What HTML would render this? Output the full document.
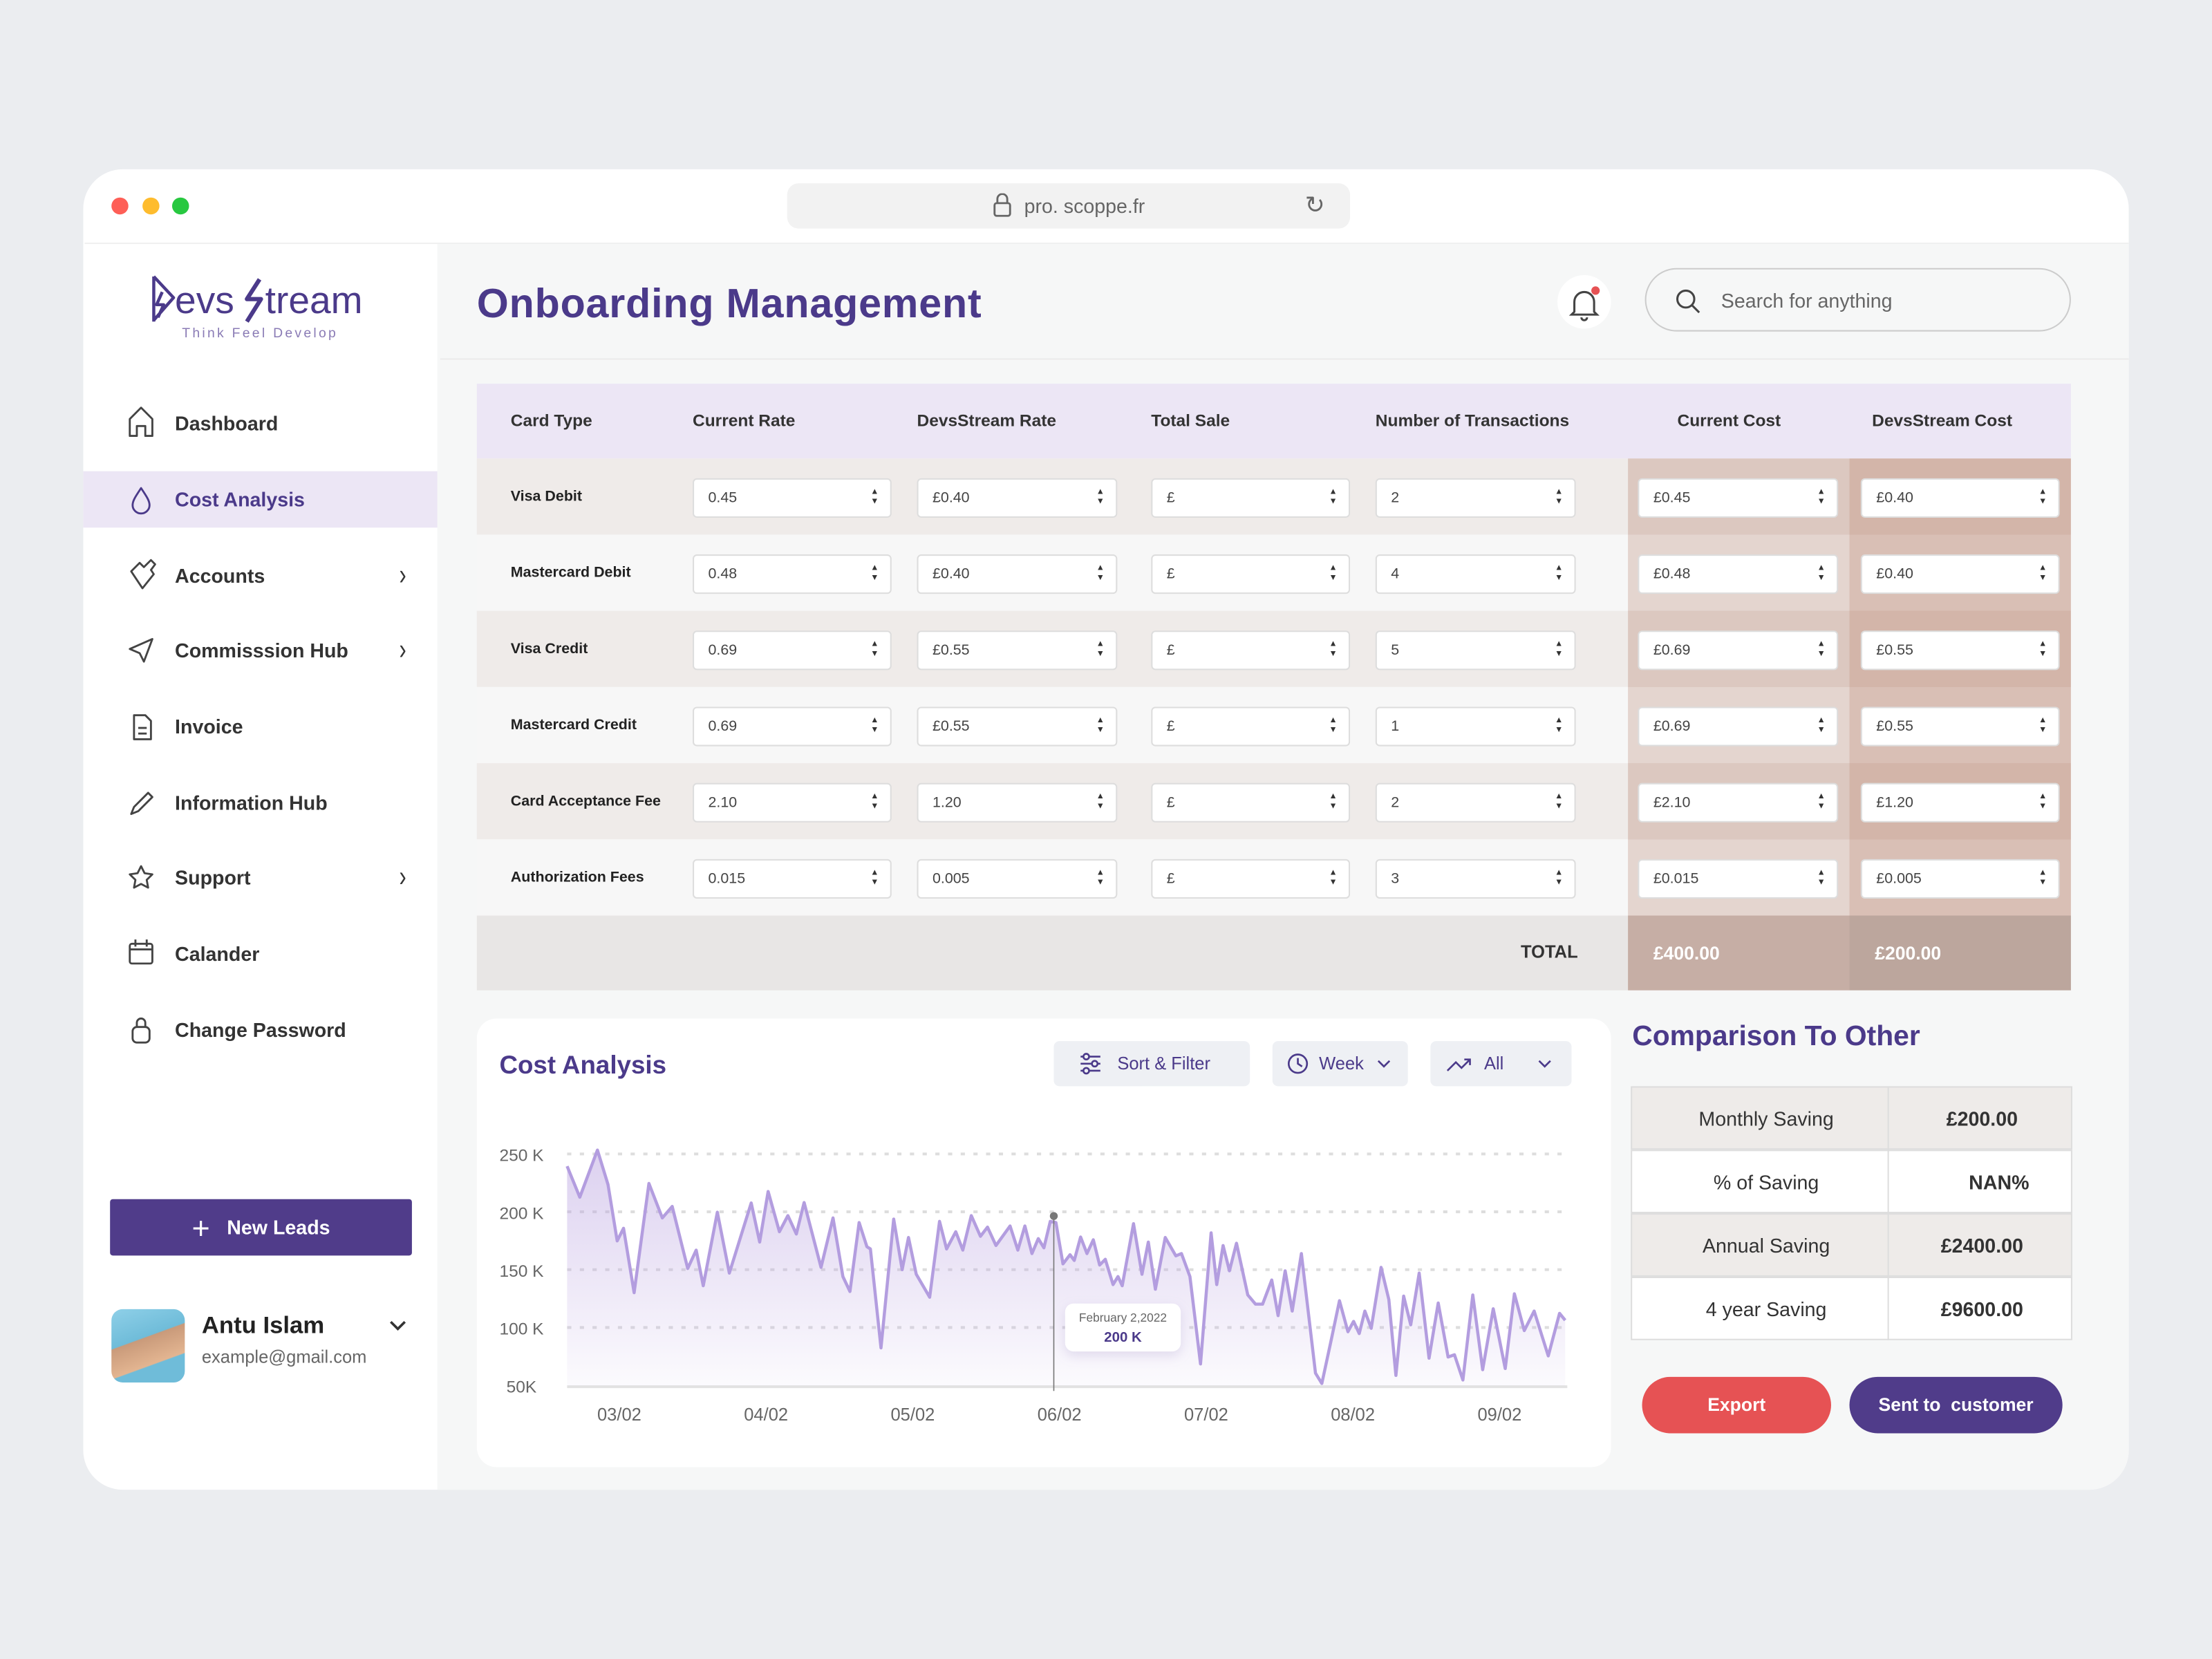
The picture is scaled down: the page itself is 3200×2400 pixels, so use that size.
<!DOCTYPE html>
<html><head><meta charset="utf-8"><style>
*{margin:0;padding:0;box-sizing:border-box}
html,body{width:3200px;height:2400px;overflow:hidden;background:#ebedf0;font-family:"Liberation Sans",sans-serif}
#s{position:absolute;left:0;top:0;width:1568px;height:1176px;transform:scale(2.040816);transform-origin:0 0}
.a{position:absolute}
.win{left:59px;top:120px;width:1450px;height:936px;background:#fff;border-radius:28px;overflow:hidden}
.nav{position:absolute;left:124px;font-size:14px;font-weight:bold;color:#333;transform:translateY(-50%)}
.chev{position:absolute;left:283px;font-size:15px;color:#333;transform:translateY(-50%) scaleY(1.4)}
.th{position:absolute;top:298px;font-size:12px;font-weight:bold;color:#333;transform:translateY(-50%)}
.rl{position:absolute;left:362px;font-size:10.5px;font-weight:bold;color:#222;transform:translateY(-50%)}
.inp{position:absolute;height:28px;background:#fff;border:1px solid #ddd;border-radius:3px;font-size:10.5px;color:#444;line-height:26px;padding-left:10px}
.inp:after{content:"\25B2\A\25BC";white-space:pre;position:absolute;right:8px;top:6px;font-size:6px;line-height:7px;color:#333}
.btn{position:absolute;height:32px;background:#eef0f4;border-radius:4px;font-size:12.5px;color:#4b3a8a;line-height:32px}
.yl{position:absolute;left:354px;font-size:12px;color:#666;transform:translateY(-50%)}
.xl{position:absolute;top:996px;font-size:12.5px;color:#666;transform:translateX(-50%)}
.ct{position:absolute;left:1156px;width:313px;height:45px;border:1px solid #ddd;font-size:14px;color:#333}
.ct span{position:absolute;top:50%;transform:translate(-50%,-50%);white-space:nowrap}
</style></head><body><div id="s">
<div class="a win"></div>
<div class="a" style="left:310px;top:172px;width:1199px;height:884px;background:#f6f7f7;border-bottom-right-radius:28px"></div>
<div class="a" style="left:79px;top:140px;width:12px;height:12px;border-radius:6px;background:#fe5f57"></div>
<div class="a" style="left:101px;top:140px;width:12px;height:12px;border-radius:6px;background:#febc2e"></div>
<div class="a" style="left:122px;top:140px;width:12px;height:12px;border-radius:6px;background:#28c840"></div>
<div class="a" style="left:558px;top:130px;width:399px;height:32px;background:#f2f2f2;border-radius:8px"></div>
<div class="a" style="left:704px;top:137px;width:13px;height:17px"><svg width="13" height="17"><path d="M3 7V4a3.5 3.5 0 0 1 7 0v3" fill="none" stroke="#666" stroke-width="1.4"/><rect x="1" y="7" width="11" height="9" rx="1.5" fill="none" stroke="#666" stroke-width="1.4"/></svg></div>
<div class="a" style="left:726px;top:138px;font-size:14px;color:#666">pro. scoppe.fr</div>
<div class="a" style="left:925px;top:138px;font-size:17px;color:#666;line-height:16px">&#8635;</div>
<div class="a" style="left:60px;top:172px;width:1449px;height:1px;background:#f0f0f0"></div>
<!-- logo -->
<svg class="a" style="left:106px;top:194px" width="20" height="36"><path d="M3 2v32M3 2l14 15-14 16M9 13l-4 9h5l-4 9" fill="none" stroke="#4b3a8a" stroke-width="2.2" stroke-linejoin="round"/></svg>
<div class="a" style="left:124px;top:198px;font-size:27px;color:#4b3a8a;letter-spacing:0px">evs</div>
<svg class="a" style="left:168px;top:196px" width="22" height="34"><path d="M16 2L7 16h10L7 32" fill="none" stroke="#4b3a8a" stroke-width="3" stroke-linejoin="round"/></svg>
<div class="a" style="left:188px;top:198px;font-size:27px;color:#4b3a8a">tream</div>
<div class="a" style="left:129px;top:231px;font-size:9.5px;color:#8a7bb5;letter-spacing:1.6px">Think Feel Develop</div>
<!-- nav -->
<div class="a" style="left:59px;top:334px;width:251px;height:40px;background:#ece6f5"></div>
<svg class="a" style="left:0;top:0" width="320" height="760"><g fill="none" stroke="#444" stroke-width="1.4" stroke-linejoin="round">
<path d="M92 309V297l8-8 8 8v12h-5v-7h-6v7z"/>
<path d="M100 346c-4 6-6 9-6 12a6 6 0 0 0 12 0c0-3-2-6-6-12z" stroke="#4b3a8a"/>
<path d="M93 405l6-6 3 3 5-5 3 3-3 4 2 3-8 10z"/>
<path d="M92 460l16-7-6 16-3-6z"/>
<path d="M95 507h8l4 4v13H95zM98 516h6M98 520h6"/>
<path d="M93 577l2-5 10-10 3 3-10 10z"/>
<path d="M100 614l2.5 5 5.5.8-4 3.9 1 5.5-5-2.6-5 2.6 1-5.5-4-3.9 5.5-.8z"/>
<rect x="92" y="669" width="16" height="14" rx="1.5"/><path d="M92 673h16M96 666v5M104 666v5"/>
<rect x="94" y="728" width="12" height="11" rx="3"/><path d="M97 728v-3a3 3 0 0 1 6 0v3"/>
</g></svg>
<div class="nav" style="top:300px">Dashboard</div>
<div class="nav" style="top:354px;color:#4b3a8a">Cost Analysis</div>
<div class="nav" style="top:408px">Accounts</div>
<div class="nav" style="top:461px">Commisssion Hub</div>
<div class="nav" style="top:515px">Invoice</div>
<div class="nav" style="top:569px">Information Hub</div>
<div class="nav" style="top:622px">Support</div>
<div class="nav" style="top:676px">Calander</div>
<div class="nav" style="top:730px">Change Password</div>
<div class="chev" style="top:408px">&#8250;</div>
<div class="chev" style="top:461px">&#8250;</div>
<div class="chev" style="top:622px">&#8250;</div>
<div class="a" style="left:78px;top:850px;width:214px;height:40px;background:#503c8a;border-radius:2px;color:#fff;font-size:14px;font-weight:bold;text-align:center;line-height:40px"><span style="font-size:22px;font-weight:normal;vertical-align:-3px;margin-right:12px">+</span>New Leads</div>
<div class="a" style="left:79px;top:928px;width:52px;height:52px;border-radius:8px;background:linear-gradient(160deg,#8fd0e8 0%,#6fbcd9 40%,#c99a7a 41%,#e3b591 70%,#6fbcd9 71%)"></div>
<div class="a" style="left:143px;top:930px;font-size:17px;font-weight:bold;color:#222">Antu Islam</div>
<div class="a" style="left:143px;top:955px;font-size:12.5px;color:#666">example@gmail.com</div>
<svg class="a" style="left:275px;top:935px" width="14" height="10"><path d="M2 2l5 5 5-5" fill="none" stroke="#333" stroke-width="1.8"/></svg>
<!-- header -->
<div class="a" style="left:338px;top:200px;font-size:29px;font-weight:bold;color:#4b3a8a;letter-spacing:0.4px">Onboarding Management</div>
<div class="a" style="left:1104px;top:195px;width:38px;height:38px;border-radius:19px;background:#fff"></div>
<svg class="a" style="left:1111px;top:201px" width="26" height="28"><path d="M5 20V13a7 7 0 0 1 14 0v7l2 2H3zM10 24a2 2 0 0 0 4 0" fill="none" stroke="#444" stroke-width="1.5"/><circle cx="20" cy="5" r="3" fill="#e65254"/></svg>
<div class="a" style="left:1166px;top:190px;width:302px;height:45px;border:1px solid #ccc;border-radius:23px;background:#f6f7f7"></div>
<svg class="a" style="left:1187px;top:204px" width="20" height="20"><circle cx="8" cy="8" r="6" fill="none" stroke="#444" stroke-width="1.5"/><path d="M12.5 12.5l5 5" stroke="#444" stroke-width="1.5"/></svg>
<div class="a" style="left:1220px;top:205px;font-size:14px;color:#666">Search for anything</div>
<div class="a" style="left:312px;top:254px;width:1197px;height:1px;background:#ebebeb"></div>
<!-- table -->
<div class="a" style="left:338px;top:272px;width:1130px;height:53px;background:#ece6f5"></div>
<div class="a" style="left:338px;top:325px;width:816px;height:54px;background:#efebe9"></div>
<div class="a" style="left:338px;top:379px;width:816px;height:54px;background:#f7f7f7"></div>
<div class="a" style="left:338px;top:433px;width:816px;height:54px;background:#efebe9"></div>
<div class="a" style="left:338px;top:487px;width:816px;height:54px;background:#f7f7f7"></div>
<div class="a" style="left:338px;top:541px;width:816px;height:54px;background:#efebe9"></div>
<div class="a" style="left:338px;top:595px;width:816px;height:54px;background:#f7f7f7"></div>
<div class="a" style="left:338px;top:649px;width:816px;height:53px;background:#e8e6e5"></div>
<div class="a" style="left:1154px;top:325px;width:157px;height:324px;background:linear-gradient(#dcc8c0 0 54px,#e4d5cf 54px 108px,#dcc8c0 108px 162px,#e4d5cf 162px 216px,#dcc8c0 216px 270px,#e4d5cf 270px)"></div>
<div class="a" style="left:1311px;top:325px;width:157px;height:324px;background:linear-gradient(#d3b5a9 0 54px,#d9bfb5 54px 108px,#d3b5a9 108px 162px,#d9bfb5 162px 216px,#d3b5a9 216px 270px,#d9bfb5 270px)"></div>
<div class="a" style="left:1154px;top:649px;width:157px;height:53px;background:#c6aea5"></div>
<div class="a" style="left:1311px;top:649px;width:157px;height:53px;background:#bca69d"></div>
<div class="th" style="left:362px">Card Type</div><div class="th" style="left:491px">Current Rate</div><div class="th" style="left:650px">DevsStream Rate</div><div class="th" style="left:816px">Total Sale</div><div class="th" style="left:975px">Number of Transactions</div><div class="th" style="left:1189px">Current Cost</div><div class="th" style="left:1327px">DevsStream Cost</div>
<div class="rl" style="top:352px">Visa Debit</div>
<div class="rl" style="top:406px">Mastercard Debit</div>
<div class="rl" style="top:460px">Visa Credit</div>
<div class="rl" style="top:514px">Mastercard Credit</div>
<div class="rl" style="top:568px">Card Acceptance Fee</div>
<div class="rl" style="top:622px">Authorization Fees</div>
<div class="inp" style="left:491px;top:339px;width:141px">0.45</div><div class="inp" style="left:650px;top:339px;width:142px">£0.40</div><div class="inp" style="left:816px;top:339px;width:141px">£</div><div class="inp" style="left:975px;top:339px;width:142px">2</div><div class="inp" style="left:1161px;top:339px;width:142px">£0.45</div><div class="inp" style="left:1319px;top:339px;width:141px">£0.40</div>
<div class="inp" style="left:491px;top:393px;width:141px">0.48</div><div class="inp" style="left:650px;top:393px;width:142px">£0.40</div><div class="inp" style="left:816px;top:393px;width:141px">£</div><div class="inp" style="left:975px;top:393px;width:142px">4</div><div class="inp" style="left:1161px;top:393px;width:142px">£0.48</div><div class="inp" style="left:1319px;top:393px;width:141px">£0.40</div>
<div class="inp" style="left:491px;top:447px;width:141px">0.69</div><div class="inp" style="left:650px;top:447px;width:142px">£0.55</div><div class="inp" style="left:816px;top:447px;width:141px">£</div><div class="inp" style="left:975px;top:447px;width:142px">5</div><div class="inp" style="left:1161px;top:447px;width:142px">£0.69</div><div class="inp" style="left:1319px;top:447px;width:141px">£0.55</div>
<div class="inp" style="left:491px;top:501px;width:141px">0.69</div><div class="inp" style="left:650px;top:501px;width:142px">£0.55</div><div class="inp" style="left:816px;top:501px;width:141px">£</div><div class="inp" style="left:975px;top:501px;width:142px">1</div><div class="inp" style="left:1161px;top:501px;width:142px">£0.69</div><div class="inp" style="left:1319px;top:501px;width:141px">£0.55</div>
<div class="inp" style="left:491px;top:555px;width:141px">2.10</div><div class="inp" style="left:650px;top:555px;width:142px">1.20</div><div class="inp" style="left:816px;top:555px;width:141px">£</div><div class="inp" style="left:975px;top:555px;width:142px">2</div><div class="inp" style="left:1161px;top:555px;width:142px">£2.10</div><div class="inp" style="left:1319px;top:555px;width:141px">£1.20</div>
<div class="inp" style="left:491px;top:609px;width:141px">0.015</div><div class="inp" style="left:650px;top:609px;width:142px">0.005</div><div class="inp" style="left:816px;top:609px;width:141px">£</div><div class="inp" style="left:975px;top:609px;width:142px">3</div><div class="inp" style="left:1161px;top:609px;width:142px">£0.015</div><div class="inp" style="left:1319px;top:609px;width:141px">£0.005</div>
<div class="a" style="left:1078px;top:668px;font-size:12.5px;font-weight:bold;color:#333">TOTAL</div>
<div class="a" style="left:1172px;top:668px;font-size:13px;font-weight:bold;color:#fff">£400.00</div>
<div class="a" style="left:1329px;top:668px;font-size:13px;font-weight:bold;color:#fff">£200.00</div>
<!-- chart card -->
<div class="a" style="left:338px;top:722px;width:804px;height:318px;background:#fff;border-radius:14px"></div>
<div class="a" style="left:354px;top:745px;font-size:18px;font-weight:bold;color:#4b3a8a">Cost Analysis</div>
<div class="btn" style="left:747px;top:738px;width:139px;padding-left:45px">Sort &amp; Filter</div>
<div class="btn" style="left:902px;top:738px;width:96px;padding-left:33px">Week</div>
<div class="btn" style="left:1014px;top:738px;width:100px;padding-left:38px">All</div>
<svg class="a" style="left:0;top:0" width="1200" height="800"><g fill="none" stroke="#4b3a8a" stroke-width="1.3">
<path d="M766 749h14M766 754h14M766 759h14"/><circle cx="770" cy="749" r="2" fill="#eef0f4"/><circle cx="776" cy="754" r="2" fill="#eef0f4"/><circle cx="770" cy="759" r="2" fill="#eef0f4"/>
<circle cx="920" cy="754" r="6.5"/><path d="M920 750v4l3 2"/><path d="M977 752l4 4 4-4"/>
<path d="M1026 759l6-6 4 4 6-6M1038 751h4v4"/><path d="M1091 752l4 4 4-4"/></g></svg>
<div class="yl" style="top:819px">250 K</div><div class="yl" style="top:860px">200 K</div><div class="yl" style="top:901px">150 K</div><div class="yl" style="top:942px">100 K</div><div class="yl" style="top:983px;left:359px">50K</div>
<div class="xl" style="left:439px">03/02</div><div class="xl" style="left:543px">04/02</div><div class="xl" style="left:647px">05/02</div><div class="xl" style="left:751px">06/02</div><div class="xl" style="left:855px">07/02</div><div class="xl" style="left:959px">08/02</div><div class="xl" style="left:1063px">09/02</div>
<svg class="a" style="left:0;top:0" width="1568" height="1176">
<defs><linearGradient id="g" x1="0" y1="0" x2="0" y2="1"><stop offset="0" stop-color="#b9a2e0" stop-opacity=".5"/><stop offset="1" stop-color="#b9a2e0" stop-opacity=".05"/></linearGradient></defs>
<g stroke="#ddd" stroke-width="2" stroke-dasharray="3 6"><path d="M402 818H1111M402 859H1111M402 900H1111M402 941H1111"/></g>
<path d="M402 983H1111" stroke="#e2e2e2" stroke-width="2"/>
<g transform="translate(338.5 774.5) scale(0.5 0.163)">
<polygon fill="url(#g)" points="127,1275 127,320 145,455 170,250 185,400 198,645 207,590 222,870 243,395 262,545 276,495 298,765 310,685 320,840 340,520 357,785 388,480 400,650 412,430 428,605 440,535 452,615 463,478 487,760 504,545 518,800 528,865 541,565 552,670 557,680 572,1110 590,550 602,770 611,630 622,790 641,890 655,560 665,680 678,605 688,685 700,535 713,625 723,585 735,665 755,580 766,685 776,580 786,700 795,635 803,675 812,560 820,565 830,745 840,705 846,730 855,628 864,700 873,640 882,750 890,725 901,835 908,800 914,840 930,570 942,790 951,650 961,855 975,630 990,710 998,700 1010,800 1025,1180 1040,610 1048,835 1057,665 1066,775 1076,655 1092,880 1103,920 1113,920 1126,815 1135,970 1145,775 1155,950 1168,700 1188,1220 1197,1265 1210,1080 1222,905 1234,1040 1242,995 1250,1048 1258,950 1267,1025 1281,760 1292,900 1302,1230 1313,885 1323,1010 1335,785 1349,1155 1362,915 1376,1150 1385,1140 1397,1250 1411,880 1425,1205 1440,940 1457,1200 1470,875 1484,1035 1498,950 1518,1145 1534,960 1542,990 1542,1275"/>
<polyline fill="none" stroke="#b39ddf" stroke-width="2.2" stroke-linejoin="round" vector-effect="non-scaling-stroke" points="127,320 145,455 170,250 185,400 198,645 207,590 222,870 243,395 262,545 276,495 298,765 310,685 320,840 340,520 357,785 388,480 400,650 412,430 428,605 440,535 452,615 463,478 487,760 504,545 518,800 528,865 541,565 552,670 557,680 572,1110 590,550 602,770 611,630 622,790 641,890 655,560 665,680 678,605 688,685 700,535 713,625 723,585 735,665 755,580 766,685 776,580 786,700 795,635 803,675 812,560 820,565 830,745 840,705 846,730 855,628 864,700 873,640 882,750 890,725 901,835 908,800 914,840 930,570 942,790 951,650 961,855 975,630 990,710 998,700 1010,800 1025,1180 1040,610 1048,835 1057,665 1066,775 1076,655 1092,880 1103,920 1113,920 1126,815 1135,970 1145,775 1155,950 1168,700 1188,1220 1197,1265 1210,1080 1222,905 1234,1040 1242,995 1250,1048 1258,950 1267,1025 1281,760 1292,900 1302,1230 1313,885 1323,1010 1335,785 1349,1155 1362,915 1376,1150 1385,1140 1397,1250 1411,880 1425,1205 1440,940 1457,1200 1470,875 1484,1035 1498,950 1518,1145 1534,960 1542,990"/>
</g>
<path d="M747 862V986" stroke="#777" stroke-width="0.8"/>
<circle cx="747" cy="862" r="2.8" fill="#777"/>
<rect x="755" y="924" width="82" height="34" rx="6" fill="#fff" style="filter:drop-shadow(0 3px 4px rgba(120,100,170,.18))"/>
<text x="796" y="937" font-size="8.5" fill="#666" text-anchor="middle" font-family="Liberation Sans">February 2,2022</text>
<text x="796" y="951" font-size="10" font-weight="bold" fill="#4b3a8a" text-anchor="middle" font-family="Liberation Sans">200 K</text>
</svg>
<!-- comparison -->
<div class="a" style="left:1157px;top:724px;font-size:20px;font-weight:bold;color:#4b3a8a">Comparison To Other</div>
<div class="ct" style="top:770px;background:#eeebe9"><span style="left:95px">Monthly Saving</span><span style="left:248px;font-weight:bold">£200.00</span></div>
<div class="ct" style="top:815px;background:#fff"><span style="left:95px">% of Saving</span><span style="left:260px;font-weight:bold">NAN%</span></div>
<div class="ct" style="top:860px;background:#eeebe9"><span style="left:95px">Annual Saving</span><span style="left:248px;font-weight:bold">£2400.00</span></div>
<div class="ct" style="top:905px;background:#fff"><span style="left:95px">4 year Saving</span><span style="left:248px;font-weight:bold">£9600.00</span></div>
<div class="a" style="left:1338px;top:770px;width:1px;height:180px;background:#ddd"></div>
<div class="a" style="left:1164px;top:976px;width:134px;height:40px;border-radius:20px;background:#e65254;color:#fff;font-size:13px;font-weight:bold;text-align:center;line-height:40px">Export</div>
<div class="a" style="left:1311px;top:976px;width:151px;height:40px;border-radius:20px;background:#503c8a;color:#fff;font-size:13px;font-weight:bold;text-align:center;line-height:40px">Sent to &nbsp;customer</div>
</div></body></html>
